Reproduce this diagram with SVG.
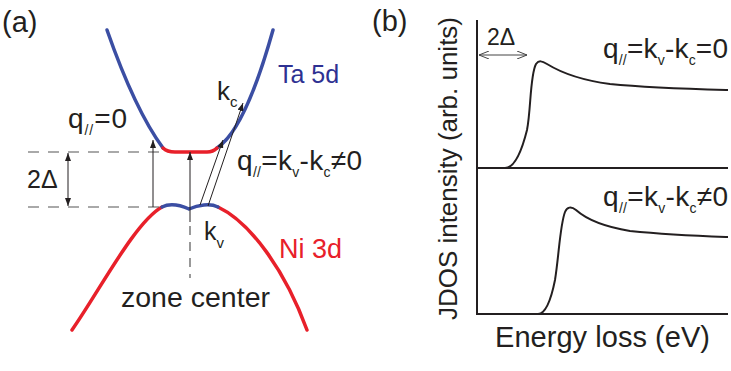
<svg xmlns="http://www.w3.org/2000/svg" width="731" height="371" viewBox="0 0 731 371">
<style>
text{font-family:"Liberation Sans",Arial,sans-serif;fill:#231f20}
.blue{fill:none;stroke:#3b4ea3;stroke-width:3.5;stroke-linecap:round}
.red{fill:none;stroke:#e8202a;stroke-width:3.5;stroke-linecap:round}
.thin{fill:none;stroke:#231f20;stroke-width:1}
.dash{fill:none;stroke:#555;stroke-width:1.2;stroke-dasharray:11 9}
.ax{fill:none;stroke:#231f20;stroke-width:2}
.crv{fill:none;stroke:#231f20;stroke-width:2}
</style>
<defs>
<marker id="ah" viewBox="0 0 8 6" refX="8" refY="3" markerWidth="8" markerHeight="6" markerUnits="userSpaceOnUse" orient="auto-start-reverse">
<path d="M0,0 L8,3 L0,6 z" fill="#231f20"/>
</marker>
<marker id="ah2" viewBox="0 0 10 8" refX="10" refY="4" markerWidth="10" markerHeight="8" markerUnits="userSpaceOnUse" orient="auto-start-reverse">
<path d="M0,0 L10,4 L0,8" fill="none" stroke="#444" stroke-width="1"/>
</marker>
</defs>

<g id="panel-a">
<text x="2" y="32" font-size="29">(a)</text>
<g id="conduction-band">
<path class="blue" d="M107,30 Q135,110 163,148"/>
<path class="blue" d="M217,148 Q245,130 273,30"/>
<path class="red" d="M163,148 Q167,152 175,152 L207,152 Q213,152 217,148"/>
</g>
<g id="valence-band">
<path class="red" d="M72,330 C100,290 135,222 162,207"/>
<path class="red" d="M218,207 C250,222 285,270 307,330"/>
<path class="blue" d="M162,207 C170,203 180,205 189,209 C198,205 210,203 218,207"/>
</g>
<g id="connectors-a">
<path class="dash" d="M28,152 H165"/>
<path class="dash" d="M28,207 H160"/>
<line class="thin" x1="68" y1="153" x2="68" y2="206" marker-start="url(#ah)" marker-end="url(#ah)"/>
<line class="thin" x1="153" y1="207" x2="153" y2="140" marker-end="url(#ah)"/>
<line class="thin" x1="190" y1="222" x2="190" y2="152" marker-end="url(#ah)"/>
<path class="dash" d="M190,226 V278" style="stroke-dasharray:9 7"/>
<line class="thin" x1="200" y1="205" x2="223" y2="140" marker-end="url(#ah)"/>
<line class="thin" x1="208" y1="206" x2="243" y2="103" marker-end="url(#ah)"/>
</g>
<text x="27" y="188" font-size="25">2Δ</text>
<text x="278" y="83" font-size="25" style="fill:#2e3192">Ta 5d</text>
<text x="279" y="258" font-size="27" style="fill:#e8202a">Ni 3d</text>
<text x="217" y="100" font-size="26">k<tspan font-size="15" dy="7">c</tspan></text>
<text x="204" y="240" font-size="25">k<tspan font-size="15" dy="8">v</tspan></text>
<text x="68" y="128" font-size="28" textLength="59">q<tspan font-size="14" dy="7">//</tspan><tspan dy="-7">=0</tspan></text>
<text x="237" y="170" font-size="28" textLength="125">q<tspan font-size="14" dy="7">//</tspan><tspan dy="-7">=k</tspan><tspan font-size="14" dy="7">v</tspan><tspan dy="-7">-k</tspan><tspan font-size="14" dy="7">c</tspan><tspan dy="-7">≠0</tspan></text>
<text x="121" y="307" font-size="28.5" textLength="149">zone center</text>
</g>

<g id="panel-b">
<text x="372" y="31" font-size="29">(b)</text>
<g id="axes">
<path class="ax" d="M477,20 V314 H728"/>
<path class="ax" d="M477,168 H728"/>
</g>
<g id="curves">
<path class="crv" d="M477,168 L505,168 C515,168 522,150 527,130 C531,110 530,75 536,64 C539,60 542,61 547,64 C560,72 580,80 610,84 C650,88 690,89 728,90"/>
<path class="crv" d="M477,314 L538,314 C546,314 551,300 555,280 C559,255 560,225 565,212 C567,207 571,206 576,210 C585,218 600,226 630,231 C670,235 700,236 728,237"/>
</g>
<g id="connectors-b">
<line x1="479" y1="55" x2="527" y2="55" stroke="#444" stroke-width="1" marker-start="url(#ah2)" marker-end="url(#ah2)"/>
</g>
<text x="487" y="45" font-size="23">2Δ</text>
<text x="603" y="58" font-size="28" textLength="125">q<tspan font-size="14" dy="7">//</tspan><tspan dy="-7">=k</tspan><tspan font-size="14" dy="7">v</tspan><tspan dy="-7">-k</tspan><tspan font-size="14" dy="7">c</tspan><tspan dy="-7">=0</tspan></text>
<text x="603" y="206" font-size="28" textLength="125">q<tspan font-size="14" dy="7">//</tspan><tspan dy="-7">=k</tspan><tspan font-size="14" dy="7">v</tspan><tspan dy="-7">-k</tspan><tspan font-size="14" dy="7">c</tspan><tspan dy="-7">≠0</tspan></text>
<text transform="translate(457,320) rotate(-90)" font-size="26" textLength="303">JDOS intensity (arb. units)</text>
<text x="495" y="347" font-size="29" textLength="215">Energy loss (eV)</text>
</g>
</svg>
